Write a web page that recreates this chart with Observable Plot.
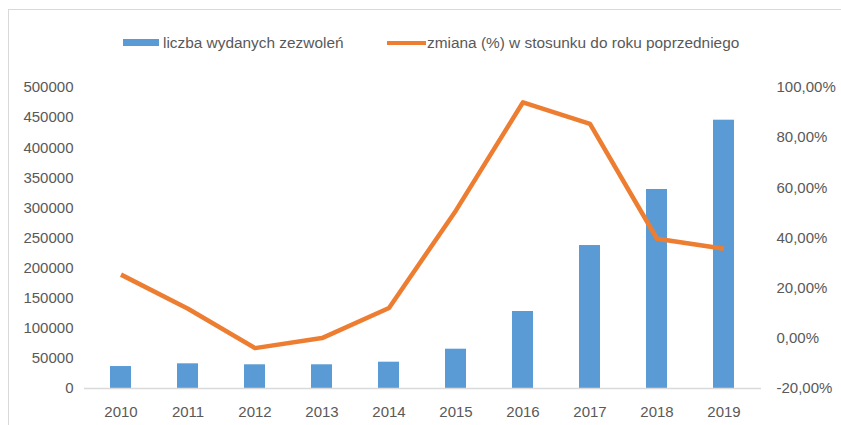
<!DOCTYPE html>
<html><head><meta charset="utf-8">
<script src="https://cdn.jsdelivr.net/npm/d3@7"></script>
<script src="https://cdn.jsdelivr.net/npm/@observablehq/plot@0.6"></script>
<style>
body{margin:0;background:#fff;font-family:"Liberation Sans",Arial,sans-serif;}
#wrap{position:relative;width:841px;height:425px;overflow:hidden;background:#fff;}
#frame{position:absolute;left:8px;top:9px;width:900px;height:500px;border:1px solid #d9d9d9;pointer-events:none;z-index:2;}
#legend{position:absolute;top:0;left:0;width:841px;height:70px;font-size:15.4px;color:#595959;}
#legend .sw{position:absolute;}
#legend .lab{position:absolute;top:35px;line-height:16px;white-space:nowrap;}
#chart{position:absolute;left:0;top:70px;}
</style></head>
<body>
<div id="wrap">
  <div id="frame"></div>
  <div id="legend">
    <div class="sw" style="left:123px;top:39px;width:36px;height:7px;background:#5B9BD5"></div>
    <div class="lab" style="left:163px">liczba wydanych zezwoleń</div>
    <div class="sw" style="left:387px;top:41px;width:39px;height:4px;background:#ED7D31"></div>
    <div class="lab" style="left:427px">zmiana (%) w stosunku do roku poprzedniego</div>
  </div>
  <div id="chart"></div>
</div>
<script>
const years = ["2010","2011","2012","2013","2014","2015","2016","2017","2018","2019"];
const permits = [36500, 41000, 39400, 39400, 43700, 65300, 127900, 237500, 330600, 445700];
const changePct = [25.4, 11.8, -3.9, 0.1, 12.1, 51.0, 94.1, 85.5, 39.7, 35.7];
const leftTicks = [0,50000,100000,150000,200000,250000,300000,350000,400000,450000,500000];
const rightTicks = [-20,0,20,40,60,80,100];

const yMax = 500000, pMin = -20, pMax = 100;
const toLeft = p => (p - pMin) / (pMax - pMin) * yMax;
const fromLeft = v => v / yMax * (pMax - pMin) + pMin;

const data = years.map((y, i) => ({year: y, permits: permits[i], pct: changePct[i]}));

const chart = Plot.plot({
  width: 841,
  height: 355,
  marginTop: 17,
  marginBottom: 37,
  marginLeft: 84,
  marginRight: 80,
  style: {background: "none", color: "#595959", fontSize: "15px", fontFamily: "'Liberation Sans', Arial, sans-serif"},
  x: {type: "band", domain: years, paddingInner: 0.68, paddingOuter: 0.34, label: null},
  y: {domain: [0, yMax], label: null},
  marks: [
    Plot.barY(data, {x: "year", y: "permits", fill: "#5B9BD5"}),
    Plot.ruleY([0], {stroke: "#d9d9d9", strokeWidth: 1.3, dx: 0}),
    Plot.line(data, {x: "year", y: d => toLeft(d.pct), stroke: "#ED7D31", strokeWidth: 4.5, strokeLinejoin: "round", strokeLinecap: "butt"}),
    Plot.axisX({ticks: years, tickSize: 0, tickPadding: 18, label: null}),
    Plot.axisY({anchor: "left", ticks: leftTicks, tickSize: 0, tickPadding: 11, tickFormat: d => String(d), label: null}),
    Plot.axisY({anchor: "right", ticks: rightTicks.map(toLeft), tickSize: 0, tickPadding: 15, label: null,
      tickFormat: v => fromLeft(v).toFixed(2).replace(".", ",") + "%"})
  ]
});
document.getElementById("chart").appendChild(chart);
</script>
</body></html>
